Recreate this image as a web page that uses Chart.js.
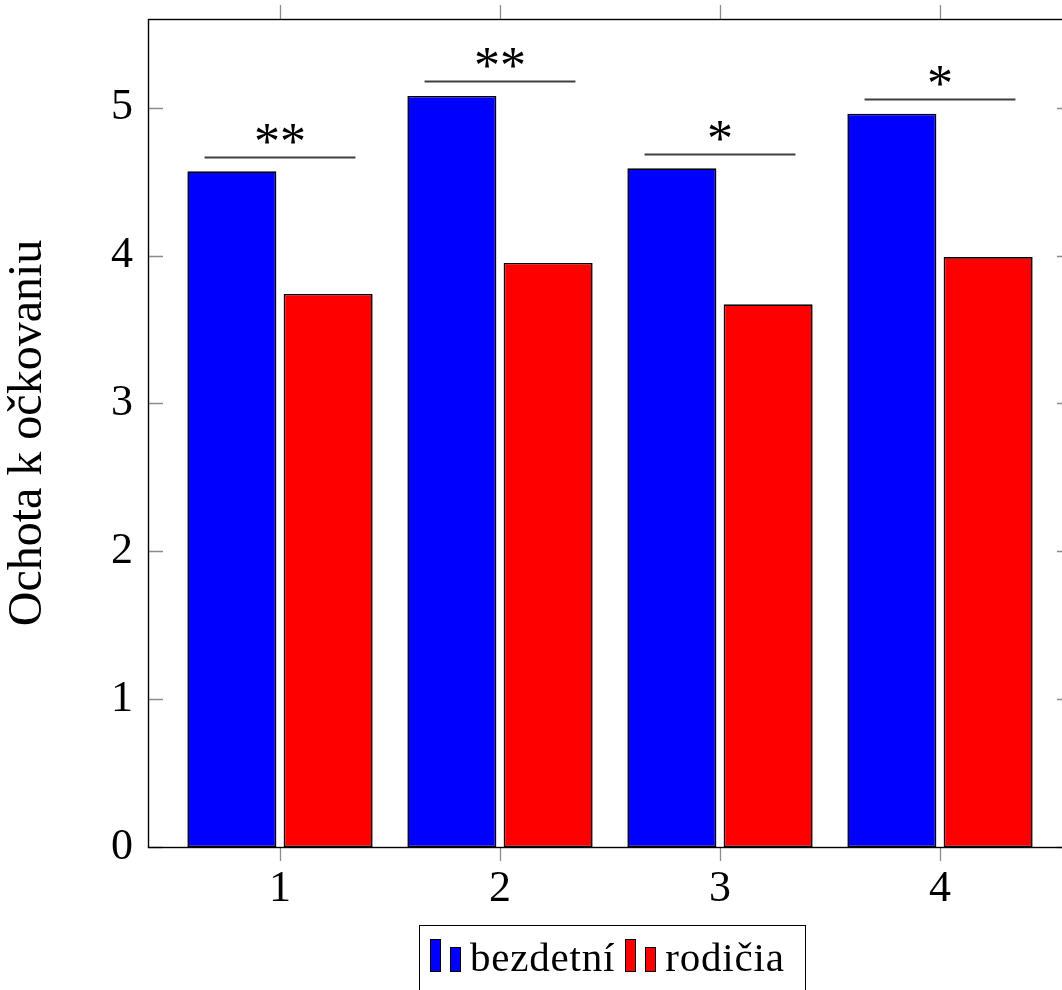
<!DOCTYPE html>
<html lang="sk">
<head>
    <meta charset="UTF-8">
    <title>Ochota k očkovaniu</title>
    <script src="https://cdn.jsdelivr.net/npm/chart.js"></script>
    <style>
        html, body {
            margin: 0;
            padding: 0;
            background: #fff;
            overflow: hidden;
        }
        .wrap {
            position: relative;
            width: 1080px;
            height: 990px;
        }
        .legend {
            position: absolute;
            left: 419px;
            top: 925px;
            width: 387px;
            height: 90px;
            box-sizing: border-box;
            border: 1.3px solid #000;
            font-family: "Liberation Serif", serif;
            font-size: 41px;
            letter-spacing: 0.8px;
            display: flex;
            align-items: flex-start;
            padding: 12px 0 0 10px;
            line-height: 1;
        }
        .legend .item {
            display: flex;
            align-items: flex-end;
            height: 34px;
        }
        .legend .icon {
            display: inline-block;
            width: 11px;
            box-sizing: border-box;
            border: 1.3px solid #000;
            margin-right: 9px;
        }
        .legend .icon.tall { height: 33px; }
        .legend .icon.short { height: 25px; }
        .legend .label { margin-right: 10px; position: relative; top: 6px; }
    </style>
</head>
<body>
<div class="wrap">
    <canvas id="chart" width="1080" height="990"></canvas>
    <div class="legend" id="legend"></div>
</div>

<script>
    const categories = [1, 2, 3, 4];
    const seriesNames = ["bezdetní", "rodičia"];
    const seriesColors = ["#0000ff", "#ff0000"];
    const childless = [4.57, 5.08, 4.59, 4.96];
    const parents = [3.74, 3.95, 3.67, 3.99];
    const yTicks = [0, 1, 2, 3, 4, 5];
    // significance markers above each pair
    const sigLevel = [4.67, 5.18, 4.69, 5.06];
    const sigText = ["**", "**", "*", "*"];

    const serif = "'Liberation Serif', 'DejaVu Serif', serif";

    // legend (html)
    const legendEl = document.getElementById("legend");
    seriesNames.forEach((name, i) => {
        const item = document.createElement("span");
        item.className = "item";
        item.innerHTML =
            '<span class="icon tall" style="background:' + seriesColors[i] + '"></span>' +
            '<span class="icon short" style="background:' + seriesColors[i] + '"></span>' +
            '<span class="label">' + name + '</span>';
        legendEl.appendChild(item);
    });

    const framePlugin = {
        id: "frame",
        afterDatasetsDraw(chart) {
            const ctx = chart.ctx;
            const x = chart.scales.x, y = chart.scales.y;
            ctx.save();
            // significance lines
            ctx.strokeStyle = "#404040";
            ctx.lineWidth = 2;
            ctx.fillStyle = "#000";
            ctx.font = "52px " + serif;
            ctx.textAlign = "center";
            ctx.textBaseline = "alphabetic";
            categories.forEach((c, i) => {
                const py = Math.round(y.getPixelForValue(sigLevel[i])) + 0.5;
                ctx.beginPath();
                ctx.moveTo(x.getPixelForValue(c - 0.343), py);
                ctx.lineTo(x.getPixelForValue(c + 0.343), py);
                ctx.stroke();
                ctx.fillText(sigText[i], x.getPixelForValue(c), py + 1);
            });
            ctx.restore();
        },
        afterDraw(chart) {
            const ctx = chart.ctx;
            const a = chart.chartArea;
            const x = chart.scales.x, y = chart.scales.y;
            ctx.save();
            ctx.strokeStyle = "#8c8c8c";
            ctx.lineWidth = 1.3;
            ctx.beginPath();
            categories.forEach(c => {
                const px = Math.round(x.getPixelForValue(c)) + 0.5;
                ctx.moveTo(px, a.top - 14);
                ctx.lineTo(px, a.top);
                ctx.moveTo(px, a.bottom);
                ctx.lineTo(px, a.bottom + 14);
            });
            yTicks.forEach(v => {
                const py = Math.round(y.getPixelForValue(v)) + 0.5;
                ctx.moveTo(a.left, py);
                ctx.lineTo(a.left + 15, py);
                ctx.moveTo(a.right - 15, py);
                ctx.lineTo(a.right, py);
            });
            ctx.stroke();
            ctx.strokeStyle = "#000";
            ctx.lineWidth = 1.4;
            ctx.strokeRect(a.left + 0.5, a.top + 0.5, a.right - a.left, a.bottom - a.top);
            ctx.restore();
        }
    };

    const ctx = document.getElementById("chart").getContext("2d");
    new Chart(ctx, {
        type: "bar",
        data: {
            datasets: [childless, parents].map((vals, i) => ({
                label: seriesNames[i],
                data: categories.map((c, j) => ({ x: c, y: vals[j] })),
                backgroundColor: seriesColors[i],
                borderColor: "#000",
                borderWidth: 1.6,
                borderSkipped: false,
                categoryPercentage: 0.875,
                barPercentage: 0.925
            }))
        },
        options: {
            responsive: false,
            animation: false,
            layout: { padding: { top: 19, right: 8, left: 0, bottom: 0 } },
            plugins: {
                legend: { display: false },
                tooltip: { enabled: false }
            },
            scales: {
                x: {
                    type: "linear",
                    min: 0.4,
                    max: 4.6,
                    offset: false,
                    afterBuildTicks: s => { s.ticks = categories.map(v => ({ value: v })); },
                    afterFit: s => { s.height = 143; s.paddingLeft = 0; s.paddingRight = 0; },
                    grid: { display: false, drawTicks: false, offset: false },
                    border: { display: false },
                    ticks: {
                        color: "#000",
                        font: { family: serif, size: 44 },
                        padding: 16
                    }
                },
                y: {
                    min: 0,
                    max: 5.6,
                    afterBuildTicks: s => { s.ticks = yTicks.map(v => ({ value: v })); },
                    afterFit: s => { s.width = 148; s.paddingTop = 0; s.paddingBottom = 0; },
                    grid: { display: false, drawTicks: false },
                    border: { display: false },
                    ticks: {
                        color: "#000",
                        font: { family: serif, size: 44 },
                        padding: 15
                    },
                    title: {
                        display: true,
                        text: "Ochota k očkovaniu",
                        color: "#000",
                        font: { family: serif, size: 48 },
                        padding: { top: 0, bottom: 0 }
                    }
                }
            }
        },
        plugins: [framePlugin]
    });
</script>
</body>
</html>
